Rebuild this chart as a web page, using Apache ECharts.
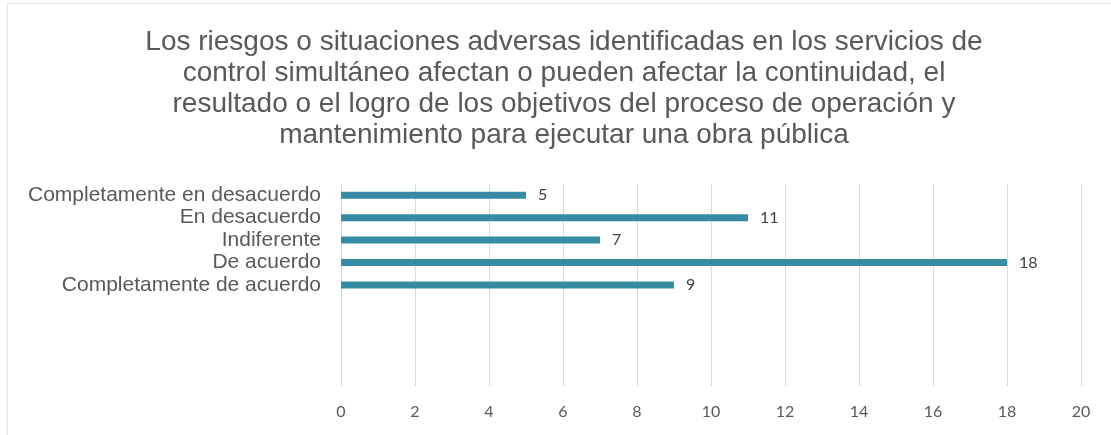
<!DOCTYPE html>
<html>
<head>
<meta charset="utf-8">
<script src="https://cdn.jsdelivr.net/npm/echarts@6/dist/echarts.min.js"></script>
<style>
  html, body { margin: 0; padding: 0; background: #fff; }
  #chart {
    position: absolute; left: 7px; top: 3px;
    width: 1104px; height: 432px;
    border-left: 1px solid #e3e3e3; border-top: 1px solid #e3e3e3;
  }
</style>
</head>
<body>
<div id="chart"></div>
<script>
// categories (top to bottom), the trailing blanks keep the empty rows at the bottom
const categories = [
  'Completamente en desacuerdo',
  'En desacuerdo',
  'Indiferente',
  'De acuerdo',
  'Completamente de acuerdo',
  '', '', '', ''
]
const values = [5, 11, 7, 18, 9, null, null, null, null]
const xTicks = { min: 0, max: 20, interval: 2 }

const titleText = 'Los riesgos o situaciones adversas identificadas en los servicios de\n' +
  'control simultáneo afectan o pueden afectar la continuidad, el\n' +
  'resultado o el logro de los objetivos del proceso de operación y\n' +
  'mantenimiento para ejecutar una obra pública'

const chart = echarts.init(document.getElementById('chart'))
chart.setOption({
  animation: false,
  title: {
    text: titleText,
    left: 551,
    top: 18,
    textAlign: 'center',
    textStyle: {
      fontFamily: 'Liberation Sans',
      fontSize: 28,
      fontWeight: 'normal',
      color: '#595959',
      lineHeight: 31
    }
  },
  grid: { left: 333, right: 31, top: 180, bottom: 50 },
  xAxis: {
    type: 'value',
    min: xTicks.min,
    max: xTicks.max,
    interval: xTicks.interval,
    axisLine: { show: false },
    axisTick: { show: false },
    splitLine: { lineStyle: { color: '#d9d9d9', width: 1 } },
    axisLabel: {
      margin: 18,
      fontFamily: 'Lato',
      fontSize: 16,
      color: '#595959'
    }
  },
  yAxis: {
    type: 'category',
    inverse: true,
    data: categories,
    axisLine: { show: false },
    axisTick: { show: false },
    axisLabel: {
      interval: 0,
      hideOverlap: false,
      margin: 20,
      fontFamily: 'Liberation Sans',
      fontSize: 21,
      color: '#595959'
    }
  },
  series: [{
    type: 'bar',
    data: values,
    barWidth: 7,
    itemStyle: { color: '#368ba5' },
    label: {
      show: true,
      position: 'right',
      distance: 12,
      fontFamily: 'Lato',
      fontSize: 16,
      color: '#404040'
    }
  }]
})
</script>
</body>
</html>
